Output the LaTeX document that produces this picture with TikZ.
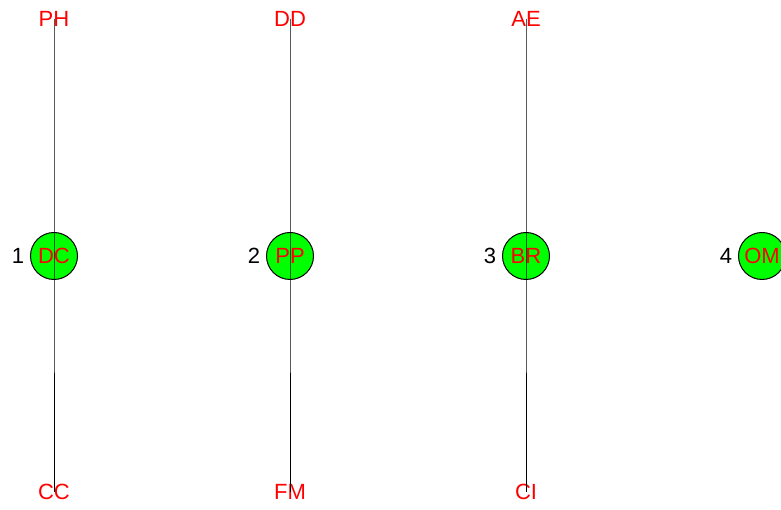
\documentclass[tikz,border=0pt]{standalone}
\usepackage{fontspec}
\setmainfont{Liberation Sans}
\usepackage{tikz}

\tikzset{
  vert/.style={circle, draw=black, fill=green, minimum size=47pt, inner sep=0pt,
    text=red, font=\fontsize{22}{24}\selectfont},
  endlab/.style={inner sep=0pt, text=red, font=\fontsize{22}{24}\selectfont},
  numlab/.style={label distance=2pt, font=\fontsize{22}{24}\selectfont}
}

\begin{document}
\begin{tikzpicture}[x=1pt,y=1pt,line width=1pt]
    \useasboundingbox (0,0) rectangle (781,510);
    \clip (0,0) rectangle (781,510);
    \begin{scope}
      \node[vert, label={[numlab]left:1}] (dc) at (54,254) {DC};
      \node[endlab] (ph) at (54,491) {PH};
      \node[endlab] (cc) at (54,18) {CC};
      \draw (ph.center) -- (dc.center) -- (cc.center);
    \end{scope}
    \begin{scope}
      \node[vert, label={[numlab]left:2}] (pp) at (290,254) {PP};
      \node[endlab] (dd) at (290,491) {DD};
      \node[endlab] (fm) at (290,18) {FM};
      \draw (dd.center) -- (pp.center) -- (fm.center);
    \end{scope}
    \begin{scope}
      \node[vert, label={[numlab]left:3}] (br) at (526,254) {BR};
      \node[endlab] (ae) at (526,491) {AE};
      \node[endlab] (ci) at (526,18) {CI};
      \draw (ae.center) -- (br.center) -- (ci.center);
    \end{scope}
    \node[vert, label={[numlab]left:4}] (om) at (762,254) {OM};
  \end{tikzpicture}
\end{document}
